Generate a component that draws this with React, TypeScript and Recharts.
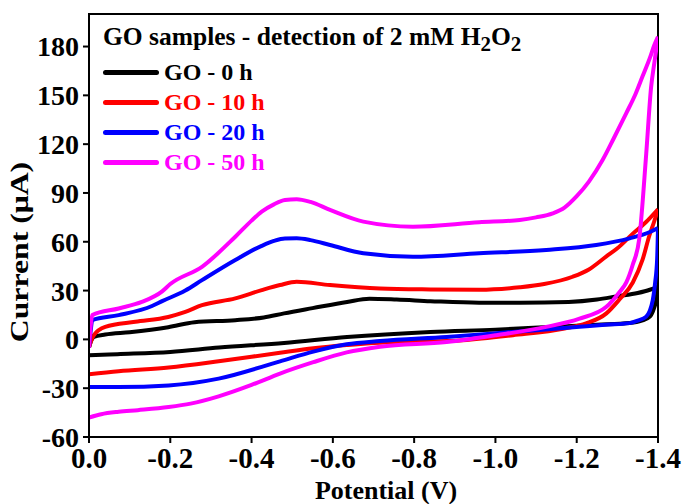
import React from 'react';
import { LineChart, Line, XAxis, YAxis, ReferenceArea } from 'recharts';

// each voltammogram = forward scan (0 -> -1.4 V) + return scan (-1.4 -> 0 V)
const go0ForwardE = [0, -0.005, -0.012, -0.04, -0.1, -0.195, -0.26, -0.36, -0.43, -0.48, -0.55, -0.635, -0.69, -0.757, -0.84, -0.96, -1.06, -1.18, -1.25, -1.3, -1.35, -1.38, -1.4];
const go0ForwardI = [-5, -1, 1.5, 3, 4.4, 7.5, 10.6, 11.8, 13.5, 16, 19.2, 23, 25, 24.5, 23.5, 22.5, 22.5, 23, 24.5, 26.5, 28.5, 30.5, 32.5];
const go0ReturnE = [-1.4, -1.397, -1.39, -1.38, -1.36, -1.33, -1.25, -1.15, -1.0, -0.84, -0.635, -0.48, -0.32, -0.2, -0.07, 0];
const go0ReturnI = [32.5, 26, 19, 14, 11.5, 10, 9, 7.8, 6, 4.6, 1.5, -2.2, -5, -7.7, -9.1, -9.8];

const go10ForwardE = [0, -0.005, -0.012, -0.04, -0.114, -0.195, -0.237, -0.278, -0.36, -0.425, -0.47, -0.511, -0.593, -0.716, -0.84, -0.96, -1.06, -1.12, -1.19, -1.23, -1.273, -1.3, -1.338, -1.37, -1.4];
const go10ForwardI = [-5, -1, 2.6, 7.7, 10.8, 13.8, 16.9, 21, 25.2, 30.3, 33.4, 35.4, 33.4, 31.3, 30.7, 30.5, 32, 34, 38.5, 43, 51, 56, 65, 72, 80];
const go10ReturnE = [-1.4, -1.39, -1.379, -1.362, -1.338, -1.305, -1.273, -1.223, -1.17, -1.043, -0.92, -0.8, -0.716, -0.634, -0.552, -0.47, -0.319, -0.196, -0.073, 0];
const go10ReturnI = [80, 72, 64, 49, 35, 24.5, 16, 9.8, 6.7, 2.6, -0.5, -1.5, -2, -3.5, -5.5, -8.2, -13.5, -17.3, -19.6, -21.5];

const go20ForwardE = [0, -0.004, -0.008, -0.073, -0.155, -0.18, -0.237, -0.278, -0.36, -0.425, -0.455, -0.482, -0.511, -0.545, -0.593, -0.675, -0.797, -0.96, -1.125, -1.248, -1.33, -1.38, -1.4];
const go20ForwardI = [-5, 5, 11.8, 14.9, 20.5, 23.5, 30, 36.4, 48.8, 57.5, 60.5, 62, 62.1, 61, 58, 52.9, 50.8, 52.9, 55, 58, 62.1, 66, 68.5];
const go20ReturnE = [-1.4, -1.398, -1.393, -1.387, -1.371, -1.35, -1.33, -1.27, -1.207, -1.043, -0.88, -0.716, -0.634, -0.552, -0.47, -0.319, -0.196, -0.073, 0];
const go20ReturnI = [68.5, 50, 35, 24, 14, 11.5, 10, 9, 7.7, 4.6, 1.5, -1, -3, -7.5, -13.5, -24.1, -28.3, -29.3, -29.3];

const go50ForwardE = [0, -0.004, -0.008, -0.073, -0.13, -0.18, -0.2, -0.278, -0.36, -0.4, -0.425, -0.455, -0.482, -0.511, -0.545, -0.593, -0.675, -0.797, -0.96, -1.06, -1.1, -1.141, -1.17, -1.2, -1.23, -1.264, -1.29, -1.322, -1.345, -1.362, -1.38, -1.391, -1.4];
const go50ForwardI = [-5, 8, 14.9, 19, 23, 29.5, 34, 44.6, 63.1, 73, 78.5, 83, 85.7, 86.2, 84.5, 79.6, 72.4, 69.3, 72, 73.4, 75, 77.5, 81, 88, 97, 110.4, 123, 139.1, 151, 161.7, 173, 181, 186];
const go50ReturnE = [-1.4, -1.391, -1.383, -1.371, -1.354, -1.338, -1.322, -1.305, -1.273, -1.207, -1.125, -1.002, -0.88, -0.716, -0.634, -0.552, -0.47, -0.4, -0.319, -0.25, -0.196, -0.12, -0.073, -0.03, 0];
const go50ReturnI = [186, 170, 155, 114, 62, 46, 35, 29, 20, 12.8, 7.7, 2.6, -1.6, -4.5, -8, -14, -21, -28, -35, -39.5, -41.6, -43.5, -44.5, -46, -48];

const seriesNames = ['GO - 0 h', 'GO - 10 h', 'GO - 20 h', 'GO - 50 h'];
const seriesColors = ['#000000', '#ff0000', '#0000ff', '#ff00ff'];
const xTicks = [0, -0.2, -0.4, -0.6, -0.8, -1.0, -1.2, -1.4];
const yTicks = [-60, -30, 0, 30, 60, 90, 120, 150, 180];

const toPoints = (xs: number[], ys: number[]) => xs.map((x, i) => ({ x, y: ys[i] }));

const scans = [
  [toPoints(go0ForwardE, go0ForwardI), toPoints(go0ReturnE, go0ReturnI)],
  [toPoints(go10ForwardE, go10ForwardI), toPoints(go10ReturnE, go10ReturnI)],
  [toPoints(go20ForwardE, go20ForwardI), toPoints(go20ReturnE, go20ReturnI)],
  [toPoints(go50ForwardE, go50ForwardI), toPoints(go50ReturnE, go50ReturnI)],
];

const FONT = '"Liberation Serif", "Times New Roman", serif';

const xTickStyle = { fill: '#000', fontSize: 29, fontWeight: 'bold' as const, fontFamily: FONT };
const yTickStyle = { fill: '#000', fontSize: 28, fontWeight: 'bold' as const, fontFamily: FONT };

const LegendBox = () => (
  <div style={{ position: 'absolute', left: 103, top: 22, fontFamily: FONT, fontWeight: 'bold', color: '#000', whiteSpace: 'nowrap' }}>
    <div style={{ fontSize: 25.5, lineHeight: '30px', height: 35 }}>
      GO samples - detection of 2 mM H<sub style={{ fontSize: 21, lineHeight: 0 }}>2</sub>O<sub style={{ fontSize: 21, lineHeight: 0 }}>2</sub>
    </div>
    {seriesNames.map((name, i) => (
      <div key={name} style={{ display: 'flex', alignItems: 'center', height: 30 }}>
        <span style={{ display: 'inline-block', width: 56, height: 5, background: seriesColors[i], borderRadius: 2.5, marginRight: 5 }} />
        <span style={{ fontSize: 24, color: seriesColors[i] }}>{name}</span>
      </div>
    ))}
  </div>
);

export default function App() {
  return (
    <div style={{ position: 'absolute', left: 0, top: 0, width: 682, height: 504, background: '#fff' }}>
      <LineChart width={682} height={504} margin={{ top: 14, right: 24, bottom: 0, left: 0 }}>
        <XAxis
          dataKey="x"
          type="number"
          domain={[-1.4, 0]}
          reversed
          ticks={xTicks}
          interval={0}
          tickFormatter={(v: number) => v.toFixed(1)}
          allowDataOverflow
          height={67}
          stroke="#000"
          strokeWidth={2}
          tickSize={6}
          tickMargin={4}
          tick={xTickStyle}
          label={{
            content: () => (
              <text x={386} y={499} textAnchor="middle" fontFamily={FONT} fontWeight="bold" fontSize={26} fill="#000">
                Potential (V)
              </text>
            ),
          }}
        />
        <YAxis
          type="number"
          domain={[-60, 200]}
          ticks={yTicks}
          interval={0}
          allowDataOverflow
          width={89}
          stroke="#000"
          strokeWidth={2}
          tickSize={6}
          tickMargin={4}
          tick={yTickStyle}
          label={{
            content: () => (
              <text transform="translate(28,252) rotate(-90) scale(1.22,1)" textAnchor="middle" fontFamily={FONT} fontWeight="bold" fontSize={26} fill="#000">
                Current (μA)
              </text>
            ),
          }}
        />
        <ReferenceArea x1={-1.4} x2={0} y1={-60} y2={200} fill="none" stroke="#000" strokeWidth={2} ifOverflow="visible" />
        {scans.flatMap((pair, i) =>
          pair.map((data, j) => (
            <Line
              key={`${seriesNames[i]}-${j}`}
              data={data}
              dataKey="y"
              name={seriesNames[i]}
              type="monotone"
              stroke={seriesColors[i]}
              strokeWidth={4}
              strokeLinejoin="round"
              dot={false}
              activeDot={false}
              isAnimationActive={false}
            />
          ))
        )}
      </LineChart>
      <LegendBox />
    </div>
  );
}
